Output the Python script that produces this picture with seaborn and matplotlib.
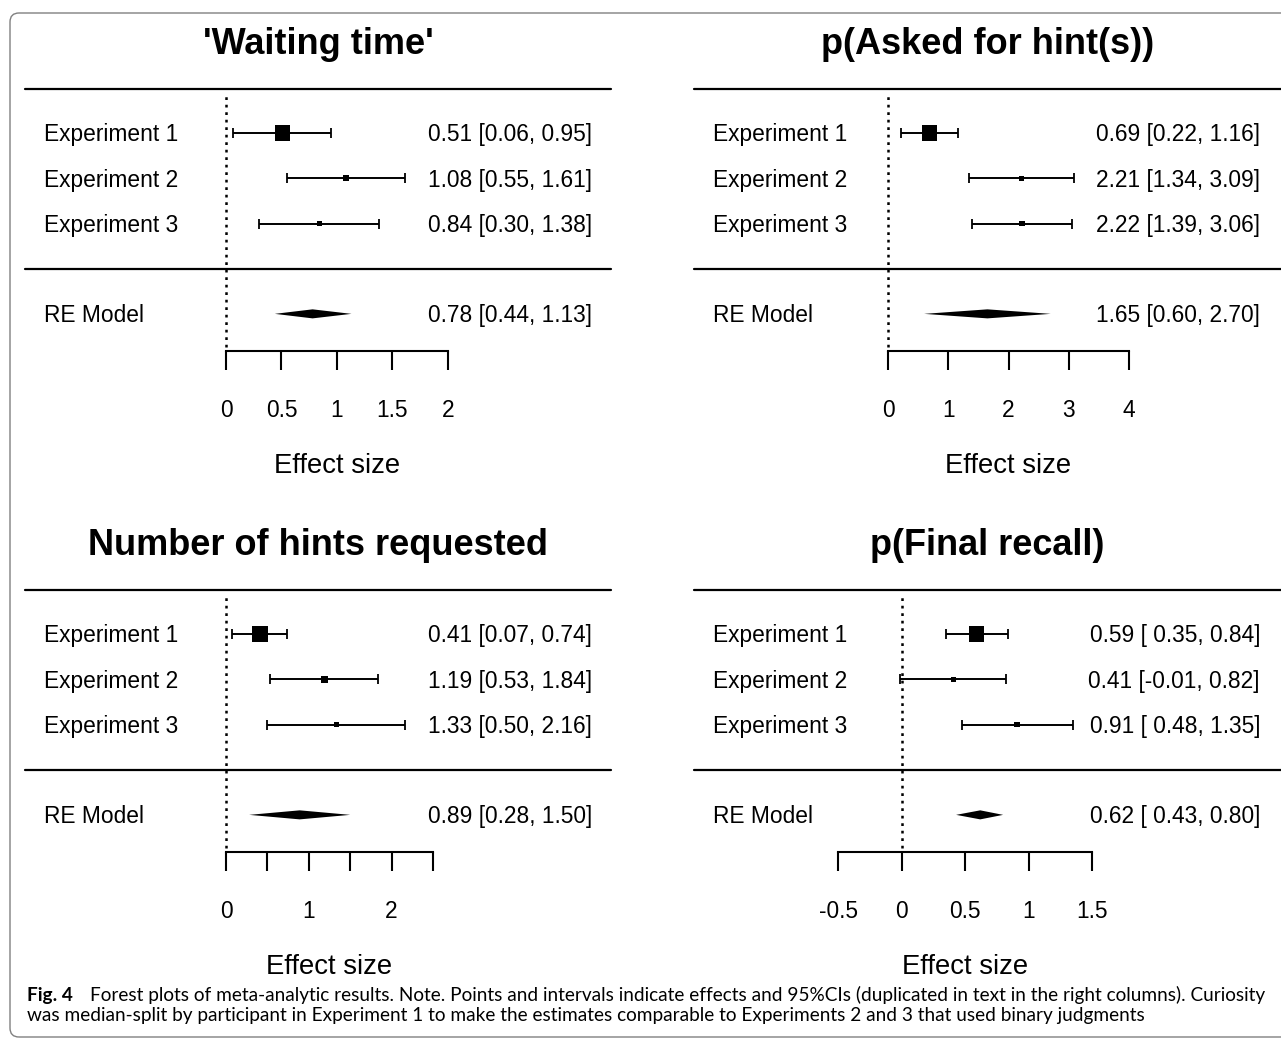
import numpy as np
import pandas as pd
import seaborn as sns
import matplotlib.pyplot as plt
import matplotlib.patches as mpatches
from matplotlib.transforms import IdentityTransform, blended_transform_factory, offset_copy

# Data
panel_titles = ["'Waiting time'", "p(Asked for hint(s))", "Number of hints requested", "p(Final recall)"]
study_labels = ["Experiment 1", "Experiment 2", "Experiment 3"]

waiting_est = [0.51, 1.08, 0.84]
waiting_lo = [0.06, 0.55, 0.30]
waiting_hi = [0.95, 1.61, 1.38]
waiting_re = [0.78, 0.44, 1.13]

asked_est = [0.69, 2.21, 2.22]
asked_lo = [0.22, 1.34, 1.39]
asked_hi = [1.16, 3.09, 3.06]
asked_re = [1.65, 0.60, 2.70]

hints_est = [0.41, 1.19, 1.33]
hints_lo = [0.07, 0.53, 0.50]
hints_hi = [0.74, 1.84, 2.16]
hints_re = [0.89, 0.28, 1.50]

recall_est = [0.59, 0.41, 0.91]
recall_lo = [0.35, -0.01, 0.48]
recall_hi = [0.84, 0.82, 1.35]
recall_re = [0.62, 0.43, 0.80]

waiting_ticks = [0, 0.5, 1, 1.5, 2]
waiting_ticklabels = ['0', '0.5', '1', '1.5', '2']
asked_ticks = [0, 1, 2, 3, 4]
asked_ticklabels = ['0', '1', '2', '3', '4']
hints_ticks = [0, 0.5, 1, 1.5, 2, 2.5]
hints_ticklabels = ['0', '', '1', '', '2', '']
recall_ticks = [-0.5, 0, 0.5, 1, 1.5]
recall_ticklabels = ['-0.5', '0', '0.5', '1', '1.5']

caption_bold = "Fig. 4"
caption_line1 = "Forest plots of meta-analytic results. Note. Points and intervals indicate effects and 95%CIs (duplicated in text in the right columns). Curiosity"
caption_line2 = "was median-split by participant in Experiment 1 to make the estimates comparable to Experiments 2 and 3 that used binary judgments"

W, H = 1281, 1039
sns.set_theme(style="white", rc={'text.color': 'black', 'xtick.color': 'black',
                                 'axes.labelcolor': 'black'})
plt.rcParams['font.family'] = ['Liberation Sans', 'DejaVu Sans']

fig = plt.figure(figsize=(W / 100, H / 100), dpi=100)
fig.patch.set_facecolor('white')

# panel layout in pixels: left, right, top line, zero position, px per unit, label x, annot x
panels = [
    (panel_titles[0], waiting_est, waiting_lo, waiting_hi, waiting_re, waiting_ticks, waiting_ticklabels,
     (25, 611, 89, 226, 111.0, 44, 592)),
    (panel_titles[1], asked_est, asked_lo, asked_hi, asked_re, asked_ticks, asked_ticklabels,
     (694, 1281, 89, 888, 60.25, 713, 1260)),
    (panel_titles[2], hints_est, hints_lo, hints_hi, hints_re, hints_ticks, hints_ticklabels,
     (25, 611, 590, 226, 82.8, 44, 592)),
    (panel_titles[3], recall_est, recall_lo, recall_hi, recall_re, recall_ticks, recall_ticklabels,
     (694, 1281, 590, 901.5, 127.0, 713, 1260)),
]

rows = [5, 4, 3]
re_row = 1
ytop = 5 + 44 / 45
ybot = 1 - 37 / 45
body_fs = 16.4

for title, est, lo, hi, re, ticks, ticklabels, lay in panels:
    L, R, T, zero, ppu, lab_x, ann_x = lay
    B = T + 262
    ax = fig.add_axes([L / W, 1 - B / H, (R - L) / W, (B - T) / H])
    ax.patch.set_visible(False)
    ax.set_xlim((L - zero) / ppu, (R - zero) / ppu)
    ax.set_ylim(ybot, ytop)

    est = np.array(est); lo = np.array(lo); hi = np.array(hi)
    df = pd.DataFrame({'study': study_labels, 'est': est, 'lo': lo, 'hi': hi, 'row': rows})

    # metafor-style point sizes from inverse variance weights
    wi = 1 / ((df['hi'] - df['lo']) / 3.92) ** 2
    psize = (wi - wi.min()) / (wi.max() - wi.min()) + 0.5
    areas = (10.4 * psize * 0.72) ** 2

    ax.axhline(ytop, color='black', lw=1.6, clip_on=False)
    ax.axhline(2, color='black', lw=1.6, clip_on=False)
    ax.plot([0, 0], [ybot + 0.08, 5.85], color='black', lw=1.8, ls=(0, (1.1, 1.9)))

    ax.errorbar(df['est'], df['row'], xerr=[df['est'] - df['lo'], df['hi'] - df['est']],
                fmt='none', ecolor='black', elinewidth=1.4, capsize=3.8, capthick=1.3)
    sns.scatterplot(data=df, x='est', y='row', marker='s', s=areas.values, color='black',
                    linewidth=0, ax=ax, zorder=3, legend=False)

    h = 0.1
    ax.fill([re[1], re[0], re[2], re[0]], [re_row, re_row + h, re_row, re_row - h],
            color='black', lw=0)

    pad = any(v < 0 for v in list(lo) + [re[1]])
    lofmt = '{:5.2f}' if pad else '{:.2f}'

    trans = offset_copy(blended_transform_factory(fig.transFigure, ax.transData),
                        fig=fig, y=-8.3, units='dots')
    for i, lab in enumerate(study_labels):
        ax.text(lab_x / W, rows[i], lab, transform=trans, ha='left', va='baseline',
                fontsize=body_fs, color='black')
        ann = '{:.2f} ['.format(est[i]) + lofmt.format(lo[i]) + ', {:.2f}]'.format(hi[i])
        ax.text(ann_x / W, rows[i], ann, transform=trans, ha='right', va='baseline',
                fontsize=body_fs, color='black')
    ax.text(lab_x / W, re_row, 'RE Model', transform=trans, ha='left', va='baseline',
            fontsize=body_fs, color='black')
    ann = '{:.2f} ['.format(re[0]) + lofmt.format(re[1]) + ', {:.2f}]'.format(re[2])
    ax.text(ann_x / W, re_row, ann, transform=trans, ha='right', va='baseline',
            fontsize=body_fs, color='black')

    for s in ['top', 'left', 'right']:
        ax.spines[s].set_visible(False)
    ax.spines['bottom'].set_bounds(ticks[0], ticks[-1])
    ax.spines['bottom'].set_linewidth(1.5)
    ax.spines['bottom'].set_color('black')
    ax.set_xticks(ticks)
    ax.set_xticklabels(ticklabels)
    ax.set_yticks([])
    ax.tick_params(axis='x', direction='out', length=13.7, width=1.5, pad=21,
                   labelsize=body_fs, colors='black', labelcolor='black', bottom=True)
    ax.set_xlabel('')
    ax.set_ylabel('')

    cx = (L + R) / 2
    fig.text(cx / W, 1 - (T - 35) / H, title, ha='center', va='baseline',
             fontsize=26, fontweight='bold', color='black')
    mid_px = zero + ppu * (ticks[0] + ticks[-1]) / 2
    fig.text(mid_px / W, 1 - (T + 384) / H, 'Effect size', ha='center', va='baseline',
             fontsize=19.8, color='black')

# caption
cap_fam = ['Lato', 'Open Sans', 'DejaVu Sans']
cap_fs = 13.7
fig.text(27 / W, 1 - 1001 / H, caption_bold, ha='left', va='baseline', fontsize=cap_fs,
         fontweight='bold', family=cap_fam, color='black')
fig.text(90 / W, 1 - 1001 / H, caption_line1, ha='left', va='baseline', fontsize=cap_fs,
         family=cap_fam, color='black')
fig.text(27 / W, 1 - 1021 / H, caption_line2, ha='left', va='baseline', fontsize=cap_fs,
         family=cap_fam, color='black')

# rounded figure border
border = mpatches.FancyBboxPatch((10, H - 1037), 1400, 1024,
                                 boxstyle="round,pad=0,rounding_size=9",
                                 transform=IdentityTransform(), fill=False,
                                 ec='#808080', lw=1.0)
fig.add_artist(border)

fig.savefig('out.png', dpi=100)
